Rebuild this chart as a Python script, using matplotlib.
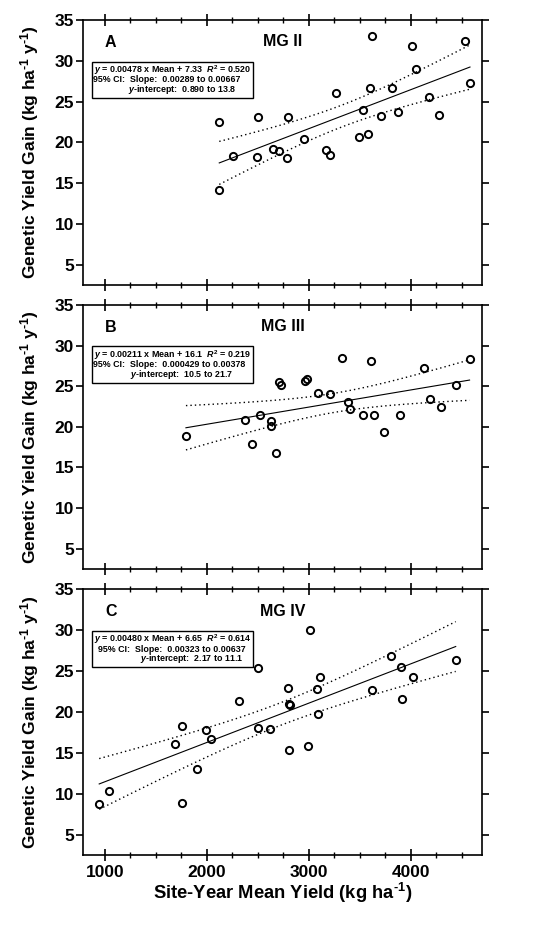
import numpy as np
import matplotlib
matplotlib.use("Agg")
import matplotlib.pyplot as plt
from matplotlib.patches import Rectangle
from matplotlib.ticker import MultipleLocator

plt.rcParams['font.family'] = ['Liberation Sans', 'DejaVu Sans']
plt.rcParams['mathtext.fontset'] = 'custom'
plt.rcParams['mathtext.rm'] = 'Liberation Sans:bold'
plt.rcParams['mathtext.bf'] = 'Liberation Sans:bold'
plt.rcParams['mathtext.it'] = 'Liberation Sans:italic:bold'

# ---------------- data ----------------
mgII_x = [2122, 2122, 2253, 2498, 2488, 2645, 2707, 2799, 2786, 2956, 3264, 3169, 3208,
          3617, 3528, 3603, 3496, 3577, 3708, 3819, 3875, 4009, 4052, 4176, 4274, 4533, 4582]
mgII_y = [22.43, 14.15, 18.31, 23.16, 18.19, 19.24, 18.96, 23.12, 18.06, 20.35, 26.02, 19.0, 18.43,
          33.0, 23.98, 26.71, 20.71, 21.0, 23.25, 26.67, 23.66, 31.82, 29.04, 25.57, 23.41, 32.43, 27.29]

mgIII_x = [1795, 2377, 2440, 2521, 2633, 2630, 2675, 2704, 2730, 2966, 2979, 3093, 3204,
           3328, 3390, 3406, 3533, 3606, 3645, 3737, 3891, 4126, 4188, 4300, 4444, 4578]
mgIII_y = [18.92, 20.88, 17.86, 21.41, 20.71, 20.10, 16.76, 25.53, 25.12, 25.66, 25.90, 24.14, 24.06,
           28.43, 23.12, 22.23, 21.41, 28.14, 21.45, 19.37, 21.41, 27.29, 23.37, 22.47, 25.17, 28.35]

mgIV_x = [944, 1042, 1690, 1759, 1752, 1906, 1988, 2043, 2318, 2498, 2502, 2616, 2792, 2806,
          2816, 2806, 2996, 3012, 3078, 3110, 3091, 3617, 3807, 3908, 3918, 4020, 4442]
mgIV_y = [8.71, 10.35, 16.11, 18.23, 8.84, 13.04, 17.74, 16.63, 21.33, 25.29, 18.02, 17.90, 22.92, 21.0,
          20.79, 15.32, 15.86, 29.98, 22.84, 24.22, 19.78, 22.67, 26.84, 25.41, 21.57, 24.22, 26.34]

panel_letters = ["A", "B", "C"]
panel_titles = ["MG II", "MG III", "MG IV"]
slopes = [0.00478, 0.00211, 0.00480]
intercepts = [7.33, 16.1, 6.65]
line1 = ["$y$ = 0.00478 x Mean + 7.33  $R^\\mathbf{2}$ = 0.520",
         "$y$ = 0.00211 x Mean + 16.1  $R^\\mathbf{2}$ = 0.219",
         "$y$ = 0.00480 x Mean + 6.65  $R^\\mathbf{2}$ = 0.614"]
line2 = ["95% CI:  Slope:  0.00289 to 0.00667",
         "95% CI:  Slope:  0.000429 to 0.00378",
         "95% CI:  Slope:  0.00323 to 0.00637"]
line3 = ["$y$-intercept:  0.890 to 13.8",
         "$y$-intercept:  10.5 to 21.7",
         "$y$-intercept:  2.17 to 11.1"]
x_label = "Site-Year Mean Yield (kg ha$^{\\text{-1}}$)"
y_label = "Genetic Yield Gain (kg ha$^{\\text{-1}}$ y$^{\\text{-1}}$)"
t_crit = {24: 2.0639, 25: 2.0595}

xs = [mgII_x, mgIII_x, mgIV_x]
ys = [mgII_y, mgIII_y, mgIV_y]

# ---------------- figure ----------------
W, H = 536, 931
fig = plt.figure(figsize=(W / 100, H / 100), dpi=100)

boxes = [(20, 285), (305, 569), (589, 855)]
left_px, right_px = 83, 482

line2_x = [0.026, 0.026, 0.038]
line3_x = [0.112, 0.118, 0.142]

for i in range(3):
    top, bot = boxes[i]
    ax = fig.add_axes([left_px / W, (H - bot) / H, (right_px - left_px) / W, (bot - top) / H])
    x = np.array(xs[i], dtype=float)
    y = np.array(ys[i], dtype=float)
    b, a = slopes[i], intercepts[i]
    n = len(x)
    xbar = x.mean()
    sxx = ((x - xbar) ** 2).sum()
    resid = y - (a + b * x)
    s = np.sqrt((resid ** 2).sum() / (n - 2))
    t = t_crit[n - 2]
    xf = np.linspace(x.min(), x.max(), 100)
    yf = a + b * xf
    half = t * s * np.sqrt(1.0 / n + (xf - xbar) ** 2 / sxx)

    ax.plot(xf, yf, color='black', lw=0.8)
    ax.plot(xf, yf + half, color='black', lw=1.0, ls=(0, (1, 2.2)))
    ax.plot(xf, yf - half, color='black', lw=1.0, ls=(0, (1, 2.2)))
    ax.plot(x, y, 'o', mfc='none', mec='black', ms=5.2, mew=1.4)

    ax.set_xlim(785, 4700)
    ax.set_ylim(2.5, 35)
    ax.xaxis.set_major_locator(MultipleLocator(1000))
    ax.xaxis.set_minor_locator(MultipleLocator(250))
    ax.set_yticks([5, 10, 15, 20, 25, 30, 35])
    for sp in ax.spines.values():
        sp.set_linewidth(1.2)
    ax.tick_params(axis='y', which='major', direction='out', length=5, width=1.2,
                   labelsize=12.5, pad=1.5, right=True)
    ax.tick_params(axis='x', which='major', direction='inout', length=8, width=1.2,
                   top=True, labelsize=12.5, pad=3)
    ax.tick_params(axis='x', which='minor', direction='inout', length=4, width=1.0, top=True)
    for lab in ax.get_yticklabels():
        lab.set_fontweight('bold')
    for lab in ax.get_xticklabels():
        lab.set_fontweight('bold')
    for tk in ax.yaxis.get_major_ticks():
        tk.tick2line.set_marker(matplotlib.lines.TICKRIGHT)
    if i < 2:
        ax.tick_params(axis='x', labelbottom=False)
    else:
        ax.set_xlabel(x_label, fontsize=13.2, fontweight='bold', labelpad=1)

    ax.set_ylabel(y_label, fontsize=12.5, fontweight='bold')
    ax.yaxis.set_label_coords(-0.105, 0.5)

    ax.text(0.055, 0.915, panel_letters[i], transform=ax.transAxes, fontsize=11.5,
            fontweight='bold', ha='left', va='center')
    ax.text(0.5, 0.917, panel_titles[i], transform=ax.transAxes, fontsize=11.5,
            fontweight='bold', ha='center', va='center')

    ax.add_patch(Rectangle((0.023, 0.705), 0.403, 0.138, transform=ax.transAxes,
                           fill=True, facecolor='white', edgecolor='black', lw=1.0, zorder=4))
    ax.text(0.027, 0.811, line1[i], transform=ax.transAxes, fontsize=6.4,
            fontweight='bold', ha='left', va='center', zorder=5)
    ax.text(line2_x[i], 0.774, line2[i], transform=ax.transAxes, fontsize=6.4,
            fontweight='bold', ha='left', va='center', zorder=5)
    ax.text(line3_x[i], 0.738, line3[i], transform=ax.transAxes, fontsize=6.4,
            fontweight='bold', ha='left', va='center', zorder=5)

fig.savefig("out.png", dpi=100)
